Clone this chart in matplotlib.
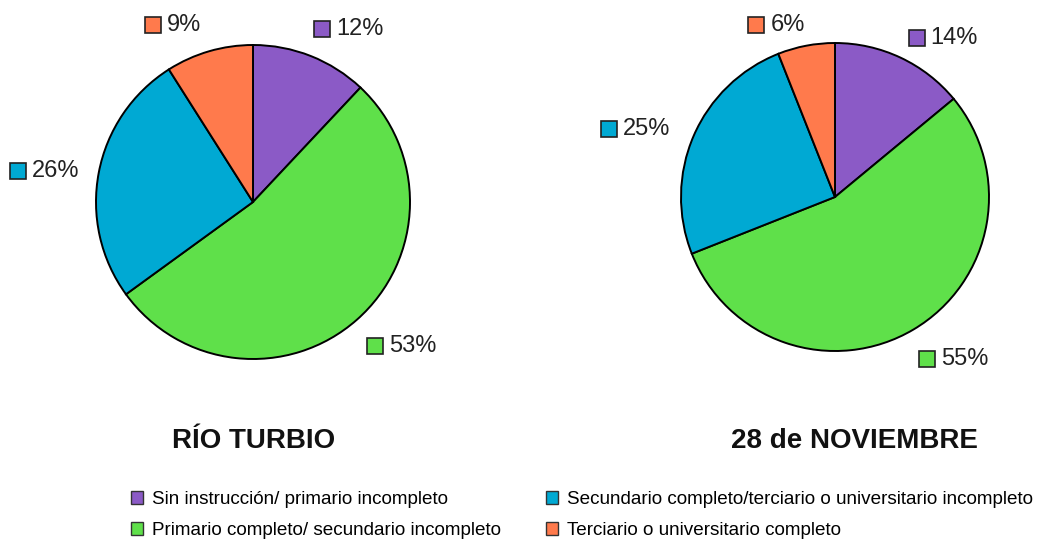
import matplotlib.pyplot as plt
from matplotlib.patches import Patch

plt.rcParams["font.family"] = ["Liberation Sans", "DejaVu Sans"]

categories = [
    "Sin instrucción/ primario incompleto",
    "Primario completo/ secundario incompleto",
    "Secundario completo/terciario o universitario incompleto",
    "Terciario o universitario completo",
]
colors = ["#8B5AC6", "#5FE04A", "#00A9D3", "#FF7A4C"]

rio_turbio = [12, 53, 26, 9]
noviembre = [14, 55, 25, 6]
titles = ["RÍO TURBIO", "28 de NOVIEMBRE"]

# where the small square of each percentage label sits, in pie-radius units
label_pos_1 = [(0.44, 1.10), (0.78, -0.92), (-1.50, 0.20), (-0.64, 1.13)]
label_pos_2 = [(0.53, 1.03), (0.60, -1.05), (-1.47, 0.44), (-0.51, 1.12)]

W, H = 1051, 542
fig = plt.figure(figsize=(W / 100, H / 100), dpi=100)


def pie_axes(cx, cy, r):
    return fig.add_axes([(cx - r) / W, (H - cy - r) / H, 2 * r / W, 2 * r / H])


def draw_pie(ax, values, label_pos):
    ax.pie(values, colors=colors, startangle=90, counterclock=False,
           wedgeprops=dict(edgecolor="black", linewidth=1.4))
    ax.set_xlim(-1, 1)
    ax.set_ylim(-1, 1)
    ax.set_aspect("equal")
    ax.axis("off")
    for (x, y), v, c in zip(label_pos, values, colors):
        ax.plot([x], [y], marker="s", markersize=12, color=c,
                markeredgecolor="#222222", markeredgewidth=1.2, clip_on=False)
        ax.text(x + 0.09, y, f"{v}%", fontsize=17, color="#222222",
                ha="left", va="center", clip_on=False)


ax1 = pie_axes(253, 202, 157)
draw_pie(ax1, rio_turbio, label_pos_1)

ax2 = pie_axes(835, 197, 154)
draw_pie(ax2, noviembre, label_pos_2)

fig.text(254 / W, 1 - 441 / H, titles[0], fontsize=20, fontweight="bold",
         ha="center", va="center", color="#111111")
fig.text(854 / W, 1 - 441 / H, titles[1], fontsize=20, fontweight="bold",
         ha="center", va="center", color="#111111")

handles = [Patch(facecolor=c, edgecolor="#333333", linewidth=1) for c in colors]
fig.legend(handles, categories, ncol=2, frameon=False, fontsize=13.6,
           loc="upper left", bbox_to_anchor=(131 / W, 1 - 491 / H),
           handlelength=0.65, handleheight=0.65, handletextpad=0.45,
           columnspacing=2.4, labelspacing=0.75, borderaxespad=0, borderpad=0)

fig.savefig("out.png", dpi=100)
